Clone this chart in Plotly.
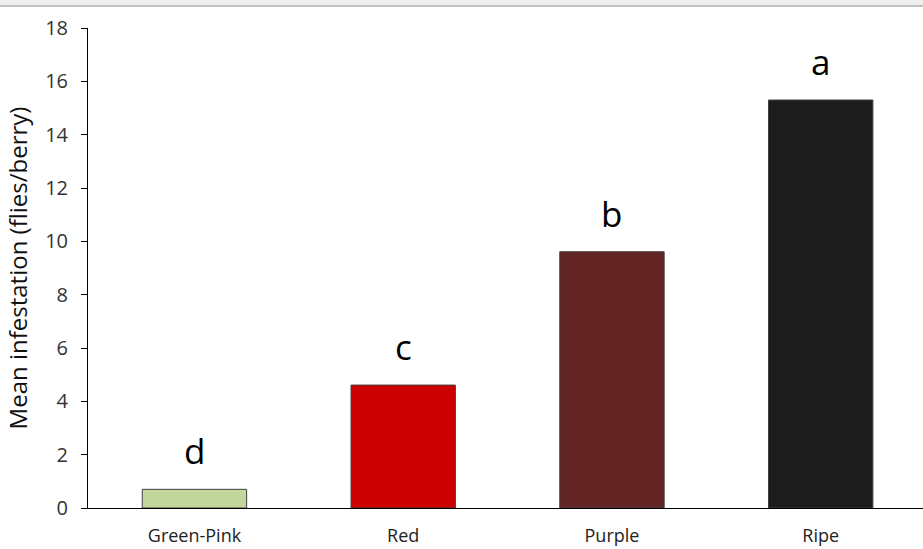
import plotly.graph_objects as go

# Mean infestation by berry ripeness stage
stages = ["Green-Pink", "Red", "Purple", "Ripe"]
infestation = [0.70, 4.61, 9.61, 15.30]
group_letters = ["d", "c", "b", "a"]
bar_colors = ["#c3d69b", "#cc0000", "#632523", "#1c1c1c"]
y_ticks = [0, 2, 4, 6, 8, 10, 12, 14, 16, 18]

W, H = 923, 549
ML, MR, MT, MB = 88, 0, 28, 41
plot_h = H - MT - MB

fig = go.Figure()
fig.add_trace(go.Bar(
    x=stages,
    y=infestation,
    width=0.5,
    marker=dict(color=bar_colors, line=dict(color="#404040", width=1)),
    hoverinfo="x+y",
))

for stage, val, letter in zip(stages, infestation, group_letters):
    fig.add_annotation(
        x=stage, y=val, text=letter, showarrow=False,
        yanchor="bottom", yshift=13,
        font=dict(family="Open Sans, Lato, sans-serif", size=35, color="#000000"),
    )

# Window strip along the top edge
fig.add_shape(type="rect", xref="paper", yref="paper",
              x0=-ML / (W - ML - MR), x1=1.01,
              y0=1 + (MT - 6) / plot_h, y1=1 + MT / plot_h + 0.01,
              fillcolor="#eeeeee", line=dict(width=0), layer="above")
fig.add_shape(type="line", xref="paper", yref="paper",
              x0=-ML / (W - ML - MR), x1=1.01,
              y0=1 + (MT - 6) / plot_h, y1=1 + (MT - 6) / plot_h,
              line=dict(color="#c0c0c0", width=2), layer="above")

fig.update_layout(
    width=W, height=H,
    margin=dict(l=ML, r=MR, t=MT, b=MB, pad=0, autoexpand=False),
    paper_bgcolor="white", plot_bgcolor="white",
    showlegend=False,
    bargap=0.5,
    font=dict(family="Open Sans, Lato, sans-serif", color="#333333"),
)
fig.update_xaxes(
    range=[-0.51, 3.49],
    automargin=False,
    showline=True, linecolor="#000000", linewidth=1,
    ticks="", showgrid=False, zeroline=False,
    tickfont=dict(size=18, color="#222222"),
    ticklabelstandoff=11,
)
fig.update_yaxes(
    range=[0, 18],
    automargin=False,
    tickvals=y_ticks,
    showline=True, linecolor="#000000", linewidth=1,
    ticks="outside", ticklen=6, tickcolor="#000000",
    showgrid=False, zeroline=False,
    tickfont=dict(size=20, color="#333333"),
    ticklabelstandoff=9,
    title=dict(text="Mean infestation (flies/berry)",
               font=dict(size=24, color="#111111"), standoff=10),
)

fig.write_html("out.html")
